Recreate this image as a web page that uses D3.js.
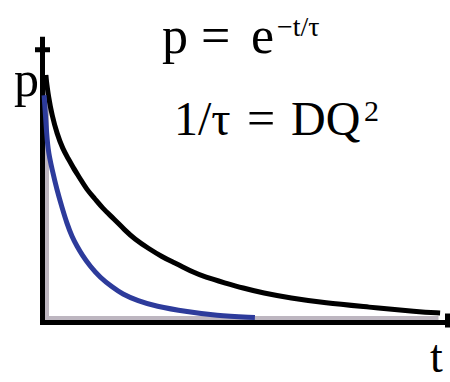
<!DOCTYPE html>
<html>
<head>
<meta charset="utf-8">
<script src="https://cdn.jsdelivr.net/npm/d3@7/dist/d3.min.js"></script>
<style>
  html, body { margin: 0; padding: 0; background: #fff; }
  svg { display: block; }
  text { font-family: "Liberation Serif", "Times New Roman", serif; fill: #000; }
</style>
</head>
<body>
<svg id="chart" width="450" height="382"></svg>
<script>
// Slow decay (black) — larger relaxation time
const tSlow = [0.08, 0.15, 0.24, 0.36, 0.51, 0.64, 0.76, 0.94, 1.11, 1.31, 1.49, 1.79, 2.06, 2.31, 2.64,
               3.01, 3.24, 3.51, 3.76, 4.06, 4.56, 5.01, 5.51, 6.19, 7.06, 8.14, 9.39, 9.94];
const pSlow = [1.10, 1.00, 0.92, 0.84, 0.77, 0.73, 0.69, 0.64, 0.59, 0.55, 0.51, 0.46, 0.41, 0.37, 0.33,
               0.29, 0.27, 0.247, 0.224, 0.202, 0.176, 0.153, 0.131, 0.109, 0.087, 0.069, 0.047, 0.042];

// Fast decay (blue) — smaller relaxation time
const tFast = [0.04, 0.09, 0.13, 0.24, 0.36, 0.49, 0.61, 0.74, 0.86, 0.99, 1.19, 1.44, 1.74, 1.99, 2.39,
               2.81, 3.64, 4.31, 5.31];
const pFast = [1.01, 0.88, 0.77, 0.68, 0.59, 0.51, 0.44, 0.38, 0.34, 0.30, 0.25, 0.20, 0.158, 0.127, 0.096,
               0.073, 0.047, 0.031, 0.022];

// Axis extents and labels
const tMax = 10.2;
const pMax = 1.27;
const axisLabels = { x: "t", y: "p" };

const svg = d3.select("#chart");

const x = d3.scaleLinear().domain([0, 10]).range([42.5, 442.5]);
const y = d3.scaleLinear().domain([0, 1]).range([322.5, 97.5]);

const line = d3.line()
  .x((d) => x(d[0]))
  .y((d) => y(d[1]))
  .curve(d3.curveBasis);

// soft grey shading along the inside of each axis
svg.append("path")
  .attr("d", `M${x(0) + 4.5},${y(1.1)}V${y(0) - 4.5}H${x(9.9)}`)
  .attr("fill", "none")
  .attr("stroke", "#bdb6c0")
  .attr("stroke-width", 4);

// axes
svg.append("path")
  .attr("d", `M${x(0)},${y(pMax)}V${y(0)}H${x(tMax)}`)
  .attr("fill", "none")
  .attr("stroke", "#000")
  .attr("stroke-width", 5)
  .attr("stroke-linejoin", "miter");

// small cross-bars marking the axis ends
svg.append("line")
  .attr("x1", x(0) - 7.5).attr("x2", x(0) + 7.5)
  .attr("y1", y(pMax) + 13).attr("y2", y(pMax) + 13)
  .attr("stroke", "#000").attr("stroke-width", 5);
svg.append("line")
  .attr("x1", x(tMax) - 3).attr("x2", x(tMax) - 3)
  .attr("y1", y(0) - 9).attr("y2", y(0) + 5)
  .attr("stroke", "#000").attr("stroke-width", 5);

// decay curves
svg.append("path")
  .datum(d3.zip(tSlow, pSlow))
  .attr("d", line)
  .attr("fill", "none")
  .attr("stroke", "#000")
  .attr("stroke-width", 5)
  .attr("stroke-linecap", "butt");

svg.append("path")
  .datum(d3.zip(tFast, pFast))
  .attr("d", line)
  .attr("fill", "none")
  .attr("stroke", "#2d3b9b")
  .attr("stroke-width", 5)
  .attr("stroke-linecap", "butt");

// axis labels
svg.append("text").attr("x", 14).attr("y", 96)
  .attr("font-size", 50).text(axisLabels.y);
svg.append("text").attr("x", 430).attr("y", 372)
  .attr("font-size", 46).text(axisLabels.x);

// equations
const eq1 = svg.append("g");
eq1.append("text").attr("x", 162).attr("y", 53).attr("font-size", 52).text("p");
eq1.append("text").attr("x", 201).attr("y", 53).attr("font-size", 52).text("=");
eq1.append("text").attr("x", 251).attr("y", 53).attr("font-size", 52).text("e");
eq1.append("text").attr("x", 277).attr("y", 36).attr("font-size", 28).text("−t/τ");

const eq2 = svg.append("g");
eq2.append("text").attr("x", 174).attr("y", 135).attr("font-size", 48).text("1/τ");
eq2.append("text").attr("x", 247).attr("y", 135).attr("font-size", 50).text("=");
eq2.append("text").attr("x", 291).attr("y", 135).attr("font-size", 48).text("DQ");
eq2.append("text").attr("x", 364).attr("y", 121).attr("font-size", 30).text("2");
</script>
</body>
</html>
